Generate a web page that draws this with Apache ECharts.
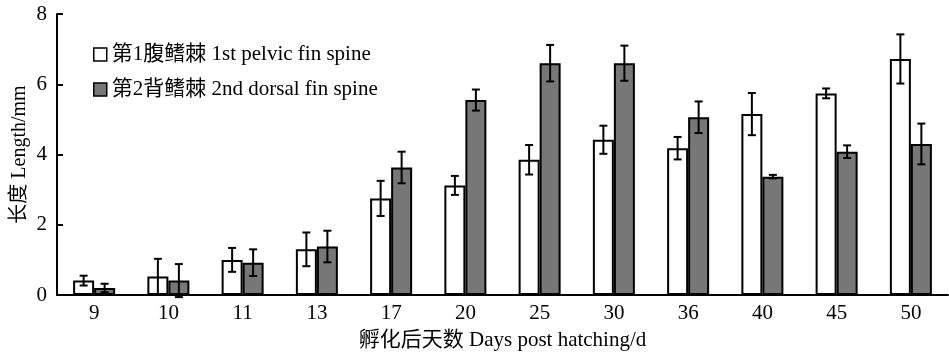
<!DOCTYPE html>
<html>
<head>
<meta charset="utf-8">
<script src="https://cdn.jsdelivr.net/npm/echarts@6/dist/echarts.min.js"></script>
<style>
html, body { margin: 0; padding: 0; background: #fff; }
#chart { width: 949px; height: 356px; }
</style>
</head>
<body>
<div id="chart"></div>
<script>
var days = ['9', '10', '11', '13', '17', '20', '25', '30', '36', '40', '45', '50'];
var pelvic = [0.41, 0.53, 1.0, 1.3, 2.75, 3.12, 3.85, 4.42, 4.18, 5.15, 5.74, 6.72];
var pelvicErr = [0.14, 0.5, 0.34, 0.48, 0.5, 0.27, 0.42, 0.4, 0.32, 0.6, 0.14, 0.7];
var dorsal = [0.2, 0.41, 0.92, 1.38, 3.63, 5.55, 6.6, 6.6, 5.06, 3.37, 4.08, 4.3];
var dorsalErr = [0.12, 0.47, 0.38, 0.45, 0.45, 0.3, 0.52, 0.5, 0.45, 0.05, 0.18, 0.58];
var yTicks = [0, 2, 4, 6, 8];

var barW = 21;
var fontFam = '"Liberation Serif", "Times New Roman", "Noto Sans CJK SC", serif';

function errData(vals, errs) {
  var out = [];
  for (var i = 0; i < vals.length; i++) {
    out.push([i, vals[i] - errs[i], vals[i] + errs[i]]);
  }
  return out;
}

function errRender(side) {
  return function (params, api) {
    var lo = api.coord([api.value(0), api.value(1)]);
    var hi = api.coord([api.value(0), api.value(2)]);
    var x = lo[0] + side * barW / 2;
    var cap = 4;
    var st = { stroke: '#000', lineWidth: 2 };
    return {
      type: 'group',
      children: [
        { type: 'line', shape: { x1: x, y1: lo[1], x2: x, y2: hi[1] }, style: st },
        { type: 'line', shape: { x1: x - cap, y1: lo[1], x2: x + cap, y2: lo[1] }, style: st },
        { type: 'line', shape: { x1: x - cap, y1: hi[1], x2: x + cap, y2: hi[1] }, style: st }
      ]
    };
  };
}

var myChart = echarts.init(document.getElementById('chart'));

var option = {
  animation: false,
  backgroundColor: '#fff',
  textStyle: { fontFamily: fontFam, color: '#000' },
  grid: { left: 57, right: 1, top: 14, bottom: 61, outerBoundsMode: 'none', containLabel: false },
  legend: {
    left: 88,
    top: 39,
    orient: 'vertical',
    icon: 'rect',
    itemWidth: 13,
    itemHeight: 13,
    itemGap: 14,
    textStyle: { fontFamily: fontFam, fontSize: 21, color: '#000' },
    data: [
      { name: '第1腹鳍棘 1st pelvic fin spine', itemStyle: { color: '#fff', borderColor: '#000', borderWidth: 1.5 } },
      { name: '第2背鳍棘 2nd dorsal fin spine', itemStyle: { color: '#777', borderColor: '#000', borderWidth: 1.5 } }
    ]
  },
  xAxis: {
    type: 'category',
    data: days,
    name: '孵化后天数 Days post hatching/d',
    nameLocation: 'middle',
    nameGap: 35,
    nameMoveOverlap: false,
    nameTextStyle: { fontFamily: fontFam, fontSize: 21, color: '#000' },
    axisLine: { lineStyle: { color: '#000', width: 2 } },
    axisTick: { inside: true, length: 8, lineStyle: { color: '#000', width: 2 } },
    axisLabel: { fontFamily: fontFam, fontSize: 21, color: '#000', margin: 8 },
    splitLine: { show: false }
  },
  yAxis: {
    type: 'value',
    min: 0,
    max: 8,
    interval: 2,
    name: '长度 Length/mm',
    nameLocation: 'middle',
    nameRotate: 90,
    nameGap: 27,
    nameMoveOverlap: false,
    nameTextStyle: { fontFamily: fontFam, fontSize: 20, color: '#000' },
    axisLine: { show: true, lineStyle: { color: '#000', width: 2 } },
    axisTick: { show: true, inside: true, length: 6, lineStyle: { color: '#000', width: 2 } },
    axisLabel: {
      fontFamily: fontFam, fontSize: 21, color: '#000', margin: 10,
      formatter: function (v) { return yTicks.indexOf(v) >= 0 ? String(v) : ''; }
    },
    splitLine: { show: false }
  },
  series: [
    {
      name: '第1腹鳍棘 1st pelvic fin spine',
      type: 'bar',
      data: pelvic,
      barWidth: barW,
      barGap: '0%',
      itemStyle: { color: '#fff', borderColor: '#000', borderWidth: 2 }
    },
    {
      name: '第2背鳍棘 2nd dorsal fin spine',
      type: 'bar',
      data: dorsal,
      barWidth: barW,
      barGap: '0%',
      itemStyle: { color: '#777', borderColor: '#000', borderWidth: 2 }
    },
    {
      type: 'custom',
      renderItem: errRender(-1),
      data: errData(pelvic, pelvicErr),
      encode: { x: 0, y: [1, 2] },
      z: 10
    },
    {
      type: 'custom',
      renderItem: errRender(1),
      data: errData(dorsal, dorsalErr),
      encode: { x: 0, y: [1, 2] },
      z: 10
    }
  ]
};
myChart.setOption(option);
window.onresize = myChart.resize;
</script>
</body>
</html>
